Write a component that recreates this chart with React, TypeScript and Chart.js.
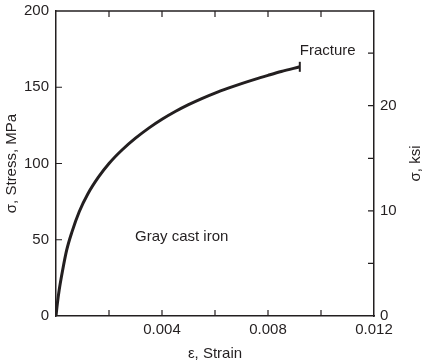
import React, { useEffect, useRef } from 'react';
import { Chart, registerables } from 'chart.js';

Chart.register(...registerables);

// Data
const strain = [0, 0.00005, 0.00012, 0.00025, 0.0004, 0.0006, 0.00088, 0.0012, 0.0016, 0.002, 0.0025, 0.003, 0.0035, 0.004, 0.0045, 0.005, 0.0055, 0.006, 0.0065, 0.007, 0.0075, 0.008, 0.0085, 0.0092];
const stress = [0, 8, 17, 30, 43, 55, 68.5, 80, 91, 100, 109, 116.6, 123.2, 129, 134.1, 138.6, 142.6, 146.2, 149.4, 152.4, 155.2, 157.8, 160.3, 163.4];

const xMinorTicks = [0.002, 0.004, 0.006, 0.008, 0.01];
const xLabelTicks = [0.004, 0.008, 0.012];
const mpaTicks = [50, 100, 150];
const ksiTicks = [5, 10, 15, 20, 25];
const ksiLabels = [0, 10, 20];
const MPA_PER_KSI = 6.89476;

const INK = '#231f20';
const FONT = "'Liberation Sans', Arial, Helvetica, sans-serif";

export default function App() {
  const ref = useRef<HTMLCanvasElement | null>(null);

  useEffect(() => {
    document.body.style.margin = '0';
    const canvas = ref.current;
    if (!canvas) return;

    const overlay = {
      id: 'overlay',
      afterDraw(chart: any) {
        const { ctx, chartArea: a, scales } = chart;
        const x = scales.x, y = scales.y, y2 = scales.y2;
        const L = 6;
        ctx.save();
        ctx.strokeStyle = INK;
        ctx.lineWidth = 1.5;
        ctx.beginPath();
        ctx.moveTo(a.left, a.top);
        ctx.lineTo(a.right, a.top);
        ctx.stroke();
        ctx.lineWidth = 1.2;
        ctx.beginPath();
        xMinorTicks.forEach((v) => {
          const px = x.getPixelForValue(v);
          ctx.moveTo(px, a.bottom);
          ctx.lineTo(px, a.bottom - L);
          ctx.moveTo(px, a.top);
          ctx.lineTo(px, a.top + L);
        });
        mpaTicks.forEach((v) => {
          const py = y.getPixelForValue(v);
          ctx.moveTo(a.left, py);
          ctx.lineTo(a.left + L, py);
        });
        ksiTicks.forEach((v) => {
          const py = y2.getPixelForValue(v);
          ctx.moveTo(a.right, py);
          ctx.lineTo(a.right - L, py);
        });
        ctx.stroke();

        ctx.fillStyle = INK;
        ctx.font = `15px ${FONT}`;
        ctx.textBaseline = 'middle';
        ctx.textAlign = 'left';
        ctx.fillText('Fracture', x.getPixelForValue(0.0092), y.getPixelForValue(174));
        ctx.fillText('Gray cast iron', x.getPixelForValue(0.00298), y.getPixelForValue(52));

        // right axis title, reading bottom to top
        const tx = chart.width - 15;
        const ty = (a.top + a.bottom) / 2;
        ctx.translate(tx, ty);
        ctx.rotate(-Math.PI / 2);
        ctx.textAlign = 'center';
        ctx.fillText('σ, ksi', 0, 0);
        ctx.restore();
      },
    };

    const n = strain.length;
    const noTickGrid = { display: false, drawTicks: false, tickLength: 0 };
    const chart = new Chart(canvas, {
      type: 'line',
      data: {
        datasets: [
          {
            data: strain.map((s, i) => ({ x: s, y: stress[i] })),
            borderColor: INK,
            borderWidth: 3,
            cubicInterpolationMode: 'monotone',
            pointRadius: strain.map((_, i) => (i === n - 1 ? 5 : 0)),
            pointStyle: 'line',
            rotation: 90,
            pointBorderWidth: 2,
            pointBorderColor: INK,
            fill: false,
          },
        ],
      },
      options: {
        animation: false,
        responsive: false,
        maintainAspectRatio: false,
        layout: { padding: { top: 11, right: 0, bottom: 0, left: 0 } },
        plugins: { legend: { display: false }, tooltip: { enabled: false } },
        scales: {
          x: {
            type: 'linear',
            min: 0,
            max: 0.012,
            grid: noTickGrid,
            border: { display: true, color: INK, width: 1.5 },
            afterBuildTicks: (s: any) => {
              s.ticks = xLabelTicks.map((v) => ({ value: v }));
            },
            afterFit: (s: any) => {
              s.height = 48;
              s.paddingLeft = 0;
              s.paddingRight = 0;
            },
            ticks: {
              color: INK,
              font: { size: 15, family: FONT },
              padding: 5,
              maxRotation: 0,
              autoSkip: false,
              callback: (v: any) => Number(v).toFixed(3),
            },
            title: {
              display: true,
              text: 'ε, Strain',
              color: INK,
              font: { size: 15, family: FONT },
              padding: { top: 0, bottom: 1 },
            },
          },
          y: {
            type: 'linear',
            position: 'left',
            min: 0,
            max: 200,
            grid: noTickGrid,
            border: { display: true, color: INK, width: 1.5 },
            afterFit: (s: any) => {
              s.width = 56;
              s.paddingTop = 0;
              s.paddingBottom = 0;
            },
            ticks: {
              stepSize: 50,
              color: INK,
              font: { size: 15, family: FONT },
              padding: 7,
            },
            title: {
              display: true,
              text: 'σ, Stress, MPa',
              color: INK,
              font: { size: 15, family: FONT },
              padding: { top: 3, bottom: 0 },
            },
          },
          y2: {
            type: 'linear',
            position: 'right',
            min: 0,
            max: 200 / MPA_PER_KSI,
            grid: noTickGrid,
            border: { display: true, color: INK, width: 1.5 },
            afterBuildTicks: (s: any) => {
              s.ticks = ksiLabels.map((v) => ({ value: v }));
            },
            afterFit: (s: any) => {
              s.width = 57;
              s.paddingTop = 0;
              s.paddingBottom = 0;
            },
            ticks: {
              color: INK,
              font: { size: 15, family: FONT },
              padding: 6,
              autoSkip: false,
            },
          },
        },
      },
      plugins: [overlay],
    } as any);

    return () => chart.destroy();
  }, []);

  return <canvas ref={ref} width={431} height={364} style={{ display: 'block' }} />;
}
